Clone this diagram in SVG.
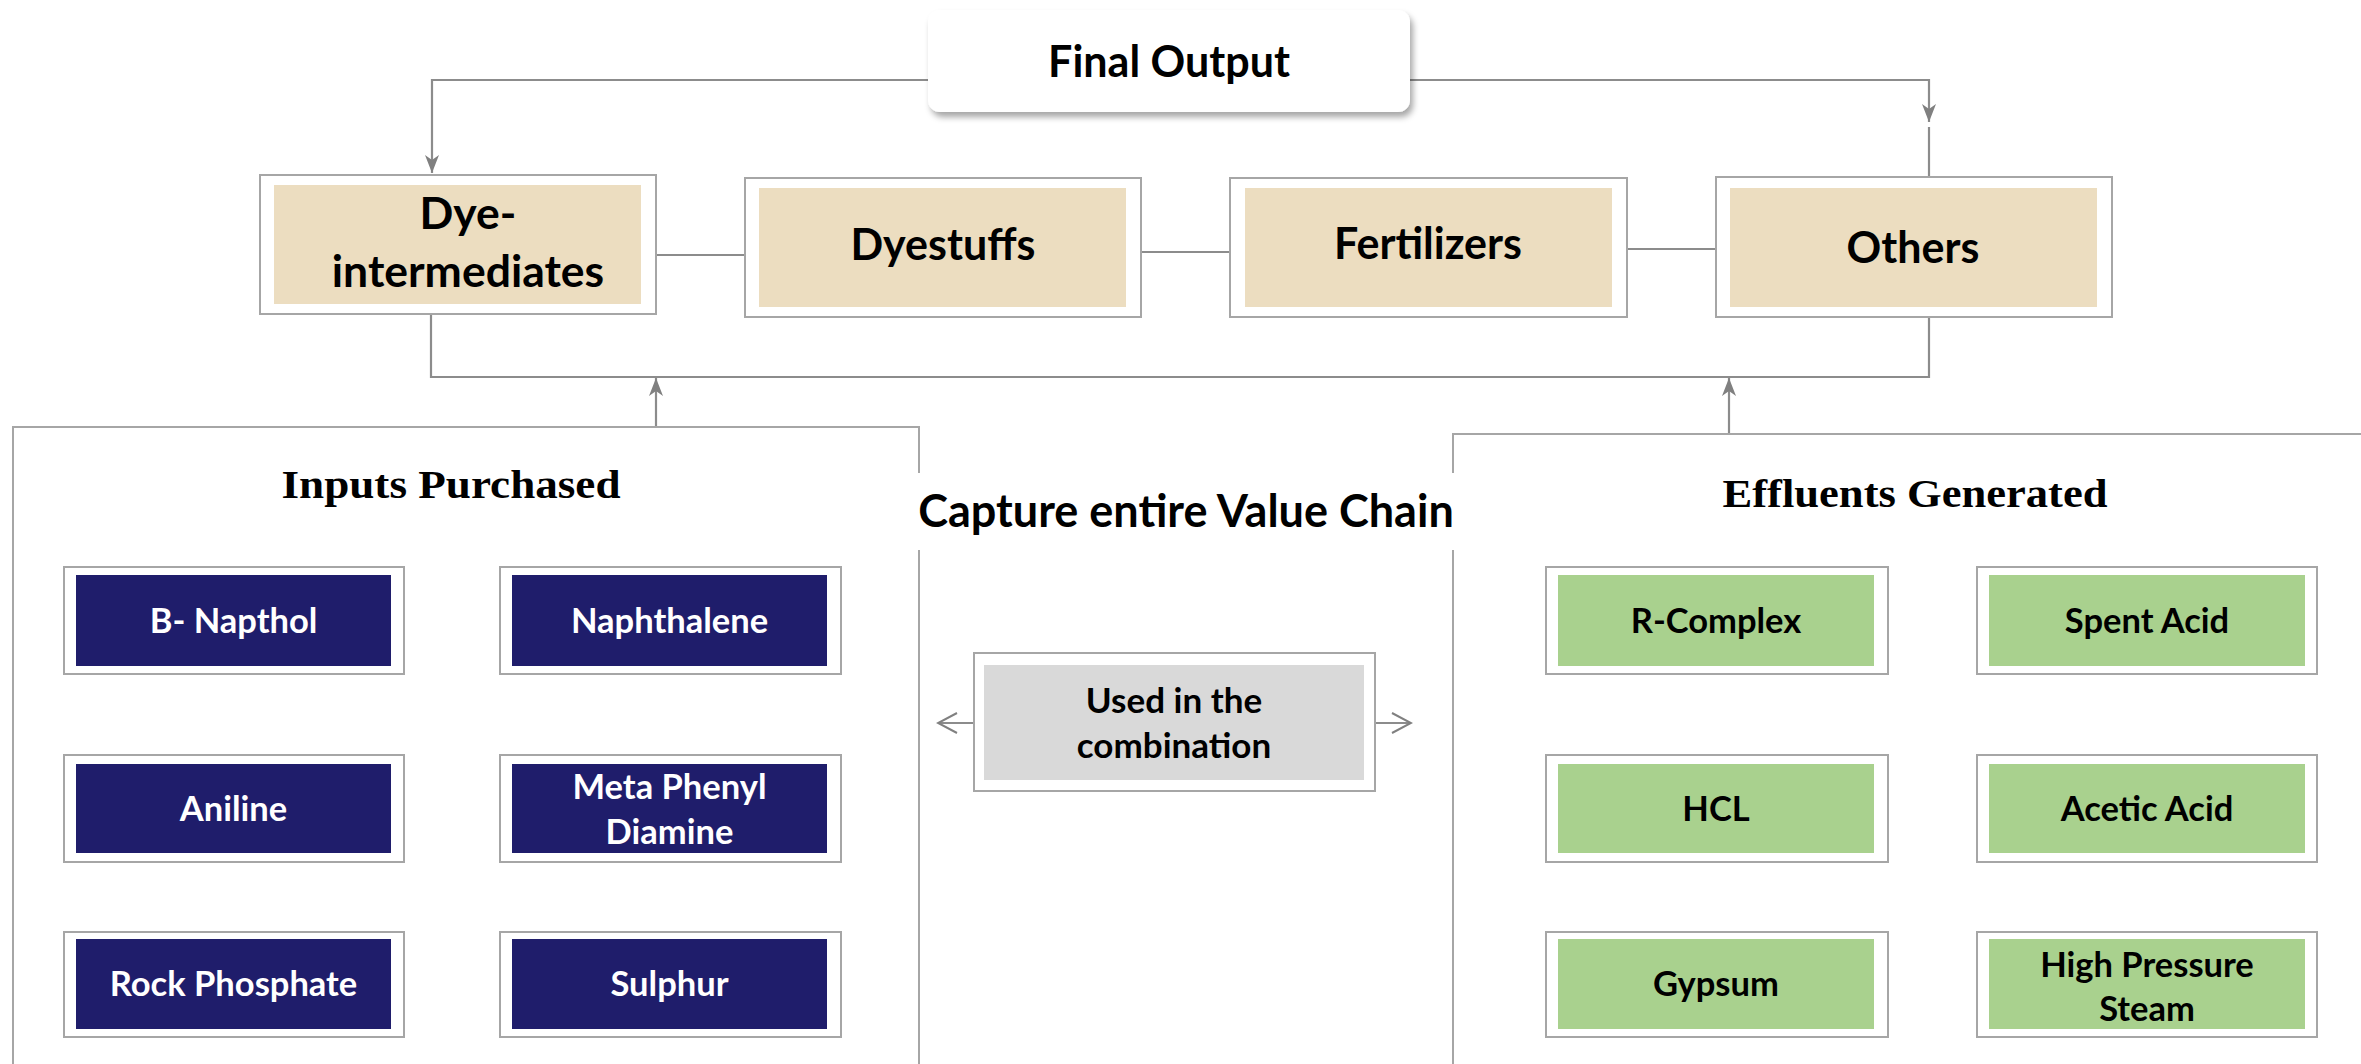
<svg xmlns="http://www.w3.org/2000/svg" width="2361" height="1064" viewBox="0 0 2361 1064">
<defs>
<style>
.outer{fill:#fff;stroke:#a6a6a6;stroke-width:2}
.tan{fill:#ecddc0}
.navy{fill:#1f1d6b}
.green{fill:#a9d18e}
.grey{fill:#d9d9d9}
.panel{fill:#fff;stroke:#a6a6a6;stroke-width:2}
.conn{fill:none;stroke:#8c8c8c;stroke-width:2.2}
.big{font-family:Lato,"Liberation Sans",sans-serif;font-weight:700;font-size:43px;fill:#000;text-anchor:middle}
.mid{font-family:Lato,"Liberation Sans",sans-serif;font-weight:700;font-size:44.5px;fill:#000;text-anchor:middle}
.sm{font-family:Lato,"Liberation Sans",sans-serif;font-weight:700;font-size:34.5px;text-anchor:middle}
.w{fill:#fff}
.k{fill:#000}
.head{font-family:"Liberation Serif",serif;font-weight:700;font-size:40px;fill:#000;text-anchor:middle}
</style>
<filter id="sh" x="-10%" y="-20%" width="130%" height="160%">
<feDropShadow dx="3" dy="5" stdDeviation="3" flood-color="#000" flood-opacity="0.35"/>
</filter>
<marker id="ah" viewBox="0 0 18 14" refX="18" refY="7" markerWidth="18" markerHeight="14" markerUnits="userSpaceOnUse" orient="auto">
<path d="M0,0 L18,7 L0,14 L5,7 Z" fill="#808080"/>
</marker>
<marker id="oa" viewBox="0 0 22 22" refX="20" refY="11" markerWidth="22" markerHeight="22" markerUnits="userSpaceOnUse" orient="auto">
<path d="M1,1 L20,11 L1,21" fill="none" stroke="#808080" stroke-width="2"/>
</marker>
</defs>
<rect width="2361" height="1064" fill="#fff"/>

<g id="connectors">
<path class="conn" d="M928,80 H432 V173" marker-end="url(#ah)"/>
<path class="conn" d="M1410,80 H1929 V122" marker-end="url(#ah)"/>
<path class="conn" d="M1929,127 V178"/>
<path class="conn" d="M656,255 H745"/>
<path class="conn" d="M1141,252 H1230"/>
<path class="conn" d="M1627,249 H1716"/>
<path class="conn" d="M431,314 V377 H1929 V317"/>
<path class="conn" d="M656,428 V378" marker-end="url(#ah)"/>
<path class="conn" d="M1729,433 V378" marker-end="url(#ah)"/>
<path class="conn" d="M974,723 H938" marker-end="url(#oa)"/>
<path class="conn" d="M1375,723 H1411" marker-end="url(#oa)"/>
</g>

<g id="final-output">
<rect x="928" y="10" width="482" height="102" rx="12" fill="#fff" filter="url(#sh)"/>
<text class="big" x="1169" y="77">Final Output</text>
</g>

<g id="dye-intermediates">
<rect class="outer" x="260" y="175" width="396" height="139"/>
<rect class="tan" x="274" y="185" width="367" height="119"/>
<text class="mid" x="468" y="229">Dye-</text>
<text class="mid" x="468" y="287">intermediates</text>
</g>
<g id="dyestuffs">
<rect class="outer" x="745" y="178" width="396" height="139"/>
<rect class="tan" x="759" y="188" width="367" height="119"/>
<text class="big" x="943" y="260">Dyestuffs</text>
</g>
<g id="fertilizers">
<rect class="outer" x="1230" y="178" width="397" height="139"/>
<rect class="tan" x="1245" y="188" width="367" height="119"/>
<text class="big" x="1428" y="259">Fertilizers</text>
</g>
<g id="others">
<rect class="outer" x="1716" y="177" width="396" height="140"/>
<rect class="tan" x="1730" y="188" width="367" height="119"/>
<text class="big" x="1913" y="263">Others</text>
</g>

<g id="inputs-purchased">
<rect class="panel" x="13" y="427" width="906" height="640"/>
<text class="head" x="451" y="498" textLength="339" lengthAdjust="spacingAndGlyphs">Inputs Purchased</text>
</g>
<g id="effluents-generated">
<rect class="panel" x="1453" y="434" width="910" height="640"/>
<text class="head" x="1915" y="507" textLength="385" lengthAdjust="spacingAndGlyphs">Effluents Generated</text>
</g>

<g id="capture-label">
<rect x="917" y="473" width="537" height="77" fill="#fff"/>
<text class="mid" x="1186" y="527" style="font-size:45px">Capture entire Value Chain</text>
</g>

<g id="used-in-combination">
<rect class="outer" x="974" y="653" width="401" height="138"/>
<rect class="grey" x="984" y="665" width="380" height="115"/>
<text class="sm k" x="1174" y="713" style="font-size:35px">Used in the</text>
<text class="sm k" x="1174" y="758" style="font-size:35px">combination</text>
</g>

<g id="b-napthol">
<rect class="outer" x="64" y="567" width="340" height="107"/>
<rect class="navy" x="76" y="575" width="315" height="91"/>
<text class="sm w" x="233.5" y="633">B- Napthol</text>
</g>
<g id="naphthalene">
<rect class="outer" x="500" y="567" width="341" height="107"/>
<rect class="navy" x="512" y="575" width="315" height="91"/>
<text class="sm w" x="669.5" y="633">Naphthalene</text>
</g>
<g id="aniline">
<rect class="outer" x="64" y="755" width="340" height="107"/>
<rect class="navy" x="76" y="764" width="315" height="89"/>
<text class="sm w" x="233.5" y="821">Aniline</text>
</g>
<g id="meta-phenyl-diamine">
<rect class="outer" x="500" y="755" width="341" height="107"/>
<rect class="navy" x="512" y="764" width="315" height="89"/>
<text class="sm w" x="669.5" y="799">Meta Phenyl</text>
<text class="sm w" x="669.5" y="844">Diamine</text>
</g>
<g id="rock-phosphate">
<rect class="outer" x="64" y="932" width="340" height="105"/>
<rect class="navy" x="76" y="939" width="315" height="90"/>
<text class="sm w" x="233.5" y="996">Rock Phosphate</text>
</g>
<g id="sulphur">
<rect class="outer" x="500" y="932" width="341" height="105"/>
<rect class="navy" x="512" y="939" width="315" height="90"/>
<text class="sm w" x="669.5" y="996">Sulphur</text>
</g>

<g id="r-complex">
<rect class="outer" x="1546" y="567" width="342" height="107"/>
<rect class="green" x="1558" y="575" width="316" height="91"/>
<text class="sm k" x="1716" y="633">R-Complex</text>
</g>
<g id="spent-acid">
<rect class="outer" x="1977" y="567" width="340" height="107"/>
<rect class="green" x="1989" y="575" width="316" height="91"/>
<text class="sm k" x="2147" y="633">Spent Acid</text>
</g>
<g id="hcl">
<rect class="outer" x="1546" y="755" width="342" height="107"/>
<rect class="green" x="1558" y="764" width="316" height="89"/>
<text class="sm k" x="1716" y="821">HCL</text>
</g>
<g id="acetic-acid">
<rect class="outer" x="1977" y="755" width="340" height="107"/>
<rect class="green" x="1989" y="764" width="316" height="89"/>
<text class="sm k" x="2147" y="821">Acetic Acid</text>
</g>
<g id="gypsum">
<rect class="outer" x="1546" y="932" width="342" height="105"/>
<rect class="green" x="1558" y="939" width="316" height="90"/>
<text class="sm k" x="1716" y="996">Gypsum</text>
</g>
<g id="high-pressure-steam">
<rect class="outer" x="1977" y="932" width="340" height="105"/>
<rect class="green" x="1989" y="939" width="316" height="90"/>
<text class="sm k" x="2147" y="977">High Pressure</text>
<text class="sm k" x="2147" y="1021">Steam</text>
</g>
</svg>
